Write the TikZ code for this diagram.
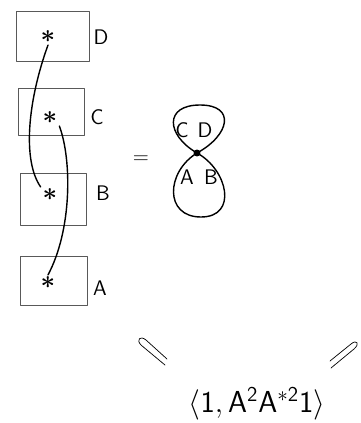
\documentclass[tikz,border=0pt]{standalone}
\usepackage{amsmath,amssymb}
\usepackage{tikz}

\begin{document}
\begin{tikzpicture}[x=0.02cm, y=-0.02cm, every node/.style={font=\sffamily\large}, line cap=round, line join=round]
	\useasboundingbox (0,0) rectangle (361,423);
	% boxes
	\draw[black!65, line width=0.5pt] (16,11) rectangle (89,61);
	\draw[black!65, line width=0.5pt] (18,88) rectangle (84,135);
	\draw[black!65, line width=0.5pt] (20,173) rectangle (86,225);
	\draw[black!65, line width=0.5pt] (20,256) rectangle (87,305);
	\node (lD) at (101,37) {D};
	\node (lC) at (97,117) {C};
	\node (lB) at (103,193) {B};
	\node (lA) at (100,288) {A};
	\node[inner sep=1pt, font=\Large\bfseries] (sD) at (48,37) {$\boldsymbol{*}$};
	\node[inner sep=1pt, font=\Large\bfseries] (sC) at (50,118) {$\boldsymbol{*}$};
	\node[inner sep=1pt, font=\Large\bfseries] (sB) at (50,195) {$\boldsymbol{*}$};
	\node[inner sep=1pt, font=\Large\bfseries] (sA) at (48,283) {$\boldsymbol{*}$};
	\draw[thick] (sD.south) .. controls (28,100) and (22,160) .. (sB.north west);
	\draw[thick] (sC.south east) .. controls (72,160) and (72,230) .. (sA.north);
	\node (eq) at (141,160) {$=$};
	% figure eight
	\node[circle, fill, inner sep=1.4pt] (x) at (197,153) {};
	\draw[thick] (x.center) .. controls (166,135) and (164,105) .. (200,105) .. controls (236,105) and (230,135) .. (x.center);
	\draw[thick] (x.center) .. controls (166,172) and (164,217) .. (201,217) .. controls (238,217) and (228,170) .. (x.center);
	\node (eC) at (182,130) {C};
	\node (eD) at (205,130) {D};
	\node (eA) at (187,177) {A};
	\node (eB) at (211,177) {B};
	% rotated equal signs
	\draw (165,365) -- (141,345) .. controls (136,340) and (140,335) .. (146,340) -- (167,359);
	\draw (331,368) -- (354,349) .. controls (360,344) and (357,339) .. (351,344) -- (330,361);
	\node[font=\sffamily\LARGE] (res) at (257,404) {$\langle\mathsf{1,A^2A^{*2}1}\rangle$};
\end{tikzpicture}
\end{document}
